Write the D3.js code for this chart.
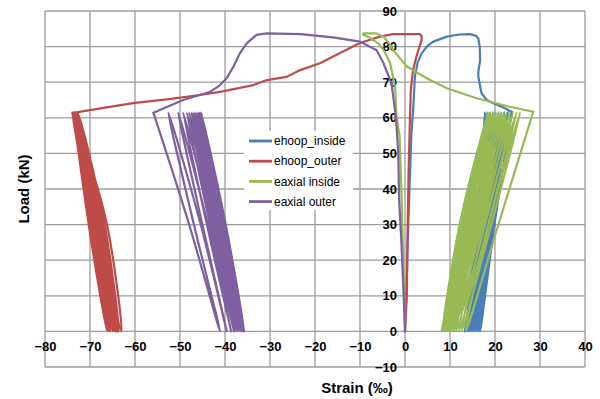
<!DOCTYPE html>
<html><head><meta charset="utf-8">
<script src="https://cdn.jsdelivr.net/npm/d3@7"></script>
<style>body{margin:0;background:#fff}svg{display:block}text{font-family:Arial,"Liberation Sans",sans-serif}</style>
</head><body>
<div id="chart"></div>
<script>
const xTicks = [-80,-70,-60,-50,-40,-30,-20,-10,0,10,20,30,40];
const yTicks = [-10,0,10,20,30,40,50,60,70,80,90];
const seriesNames = ["ehoop_inside","ehoop_outer","eaxial inside","eaxial outer"];
const seriesColors = ["#4A7EBB","#BE4B48","#98B954","#7D60A0"];
// load levels used by each cycle: [top, middle, bottom]
const cycleLoads = [61.5, 31, 0];

// initial monotonic loading paths [strain, load]
const blueInit = [[0,0],[0.3,10],[0.6,25],[1.0,40],[1.4,55],[1.8,62],[2.2,71.5],[2.8,75.5],[3.7,78.1],[5,80.2],[6.3,81.4],[9.3,82.8],[12,83.4],[14.4,83.5],[15.8,83],[16.3,82.3],[16.6,80],[16.7,76.2],[16.3,73],[16.3,71.5],[17,66.9],[18.2,65],[19.6,64.1],[22,62.8],[23.7,61.7]];
const redInit = [[0,0],[0.4,10],[0.6,30],[0.8,45],[1.1,60],[1.3,68],[1.8,73.4],[2.6,77.5],[3.7,81.9],[3.7,83],[3.3,83.5],[0,83.5],[-2.7,83.5],[-5.6,82.8],[-10,81],[-14,78.5],[-18.9,75.3],[-23.3,73.4],[-26.3,71.5],[-30.7,70.6],[-33.7,69.2],[-41.1,67.3],[-45.6,66.4],[-52,65.3],[-60.4,64.1],[-67,62.8],[-73.7,61.4]];
const greenInit = [[0,0],[-0.2,10],[-0.5,25],[-0.8,40],[-1.2,55],[-1.9,60.3],[-2.2,68.7],[-3.3,75.3],[-4.5,78.5],[-5.9,80.9],[-8,82.6],[-9.3,83.3],[-9.3,83.7],[-6.3,83.7],[-4.8,82.8],[-3.3,80.5],[-2.6,79],[0.4,74.4],[4.8,71.1],[9.3,68.3],[15.9,65.5],[23.3,63.1],[28.5,61.7]];
const purpleInit = [[0,0],[-0.3,10],[-0.8,25],[-1.3,37],[-1.5,50],[-2,60],[-3,69.7],[-4.8,75.4],[-6.3,79],[-10,81.4],[-16,82.6],[-23.3,83.5],[-30.7,83.7],[-33,83.3],[-35.2,80.9],[-36.7,78.1],[-38.1,74.4],[-39.6,71.2],[-41.1,69.2],[-43.3,67.3],[-45.6,66.4],[-49.3,65],[-55.9,61.4]];

// cycles: [strain at top, strain at middle (unloading), strain at bottom, strain at middle (reloading)]
const blueCycles = [[23.7,20.0,16.7,19.2],[22.8,19.6,16.3,18.8],[22.0,19.2,15.9,18.4],[21.3,18.8,15.5,18.0],[20.7,18.4,15.1,17.6],[20.1,18.0,14.7,17.2],[19.5,17.6,14.3,16.8],[18.9,17.2,13.9,16.4],[18.3,16.8,13.6,16.0],[17.8,16.4,13.3]];
const redCycles = [[-73.7,-66.4,-63.0,-68.6],[-73.9,-68.4,-65.8,-70.2],[-73.6,-67.6,-64.3,-69.6],[-74.0,-69.0,-66.2,-70.4],[-73.4,-67.2,-63.8,-69.2],[-73.8,-68.7,-65.5,-70.0],[-73.2,-67.0,-64.0,-69.0],[-73.6,-68.2,-65.0,-69.8],[-72.8,-66.9,-63.6,-68.8],[-73.3,-67.9,-64.6,-69.4],[-73.0,-67.3,-64.2]];
const greenCycles = [[28.5,21.0,13.5,18.8],[25.6,19.4,12.6,17.8],[24.8,18.7,12.0,17.0],[24.0,18.0,11.4,16.3],[23.3,17.3,10.9,15.6],[22.6,16.7,10.4,15.0],[22.0,16.1,10.0,14.4],[21.4,15.6,9.6,13.9],[20.8,15.1,9.2,13.4],[20.2,14.6,8.9,12.9],[19.6,14.1,8.6,12.6],[19.0,13.7,8.3,12.3],[18.5,13.4,8.1]];
const purpleCycles = [[-55.9,-48.2,-41.1,-47.1],[-52.6,-45.6,-39.6,-45.2],[-50.4,-44.0,-38.6,-44.2],[-49.3,-43.1,-38.0,-43.5],[-48.5,-42.5,-37.6,-43.0],[-48.0,-42.0,-37.2,-42.6],[-47.5,-41.6,-36.9,-42.2],[-47.1,-41.3,-36.6,-41.9],[-46.7,-40.9,-36.3,-41.5],[-46.3,-40.6,-36.1,-41.3],[-46.0,-40.4,-35.9,-41.0],[-45.7,-40.2,-35.8,-40.9],[-45.5,-40.0,-35.7,-40.7],[-45.3,-40.0,-35.8]];

const W = 600, H = 399;
const margin = {left:45, right:15, top:11, bottom:32};
const x = d3.scaleLinear().domain([-80,40]).range([margin.left, W-margin.right]);
const y = d3.scaleLinear().domain([-10,90]).range([H-margin.bottom, margin.top]);

const svg = d3.select("#chart").append("svg").attr("width",W).attr("height",H);

// grid
const gridColor = "#9c9c9c";
svg.append("g").selectAll("line").data(xTicks).join("line")
  .attr("x1",d=>x(d)).attr("x2",d=>x(d)).attr("y1",y(-10)).attr("y2",y(90))
  .attr("stroke",gridColor).attr("stroke-width",1.3);
svg.append("g").selectAll("line").data(yTicks).join("line")
  .attr("y1",d=>y(d)).attr("y2",d=>y(d)).attr("x1",x(-80)).attr("x2",x(40))
  .attr("stroke",gridColor).attr("stroke-width",1.3);

// axes (labels only; lines are the grid)
const xAxis = d3.axisBottom(x).tickValues(xTicks).tickSize(0).tickPadding(10);
const gx = svg.append("g").attr("transform",`translate(0,${y(0)})`).call(xAxis);
gx.select(".domain").remove();
gx.selectAll("text").attr("font-size",13).attr("font-weight","bold").attr("fill","#000").style("font-family","Arial, 'Liberation Sans', sans-serif");
const yAxis = d3.axisLeft(y).tickValues(yTicks).tickSize(0).tickPadding(8);
const gy = svg.append("g").attr("transform",`translate(${x(0)},0)`).call(yAxis);
gy.select(".domain").remove();
gy.selectAll("text").attr("font-size",13).attr("font-weight","bold").attr("fill","#000").style("font-family","Arial, 'Liberation Sans', sans-serif");

// series: initial loading (straight segments) + smooth load cycles
function cyclePoints(init, cycles){
  const pts = [init[init.length-1]];
  cycles.forEach((c,i)=>{
    if (i > 0) pts.push([c[0], cycleLoads[0]]);
    pts.push([c[1], cycleLoads[1]]);
    pts.push([c[2], cycleLoads[2]]);
    if (c.length > 3) pts.push([c[3], cycleLoads[1]]);
  });
  return pts;
}
const inits = [blueInit, redInit, greenInit, purpleInit];
const cycles = [blueCycles, redCycles, greenCycles, purpleCycles];
const lineInit = d3.line().x(d=>x(d[0])).y(d=>y(d[1]));
const lineCycle = d3.line().x(d=>x(d[0])).y(d=>y(d[1])).curve(d3.curveCatmullRom.alpha(0.5));
const sg = svg.append("g");
inits.forEach((init,i)=>{
  const g = sg.append("g").attr("fill","none").attr("stroke",seriesColors[i]).attr("stroke-width",2.2)
    .attr("stroke-linejoin","round").attr("stroke-linecap","round");
  g.append("path").datum(init).attr("d", lineInit);
  g.append("path").datum(cyclePoints(init, cycles[i])).attr("d", lineCycle);
});

// legend
const lg = svg.append("g");
lg.append("rect").attr("x",244).attr("y",131).attr("width",109).attr("height",79).attr("fill","#fff");
seriesNames.forEach((n,i)=>{
  const yy = 141 + i*20.2;
  lg.append("line").attr("x1",249).attr("x2",272).attr("y1",yy).attr("y2",yy)
    .attr("stroke",seriesColors[i]).attr("stroke-width",2.8);
  lg.append("text").attr("x",274).attr("y",yy).attr("dy","0.35em")
    .attr("font-size",12).attr("fill","#000").text(n);
});

// axis titles
svg.append("text").attr("x",357).attr("y",388).attr("dy","0.35em").attr("text-anchor","middle")
  .attr("font-size",15).attr("font-weight","bold").text("Strain (‰)");
svg.append("text").attr("transform","translate(24,189) rotate(-90)").attr("dy","0.35em").attr("text-anchor","middle")
  .attr("font-size",15).attr("font-weight","bold").text("Load (kN)");
</script>
</body></html>
